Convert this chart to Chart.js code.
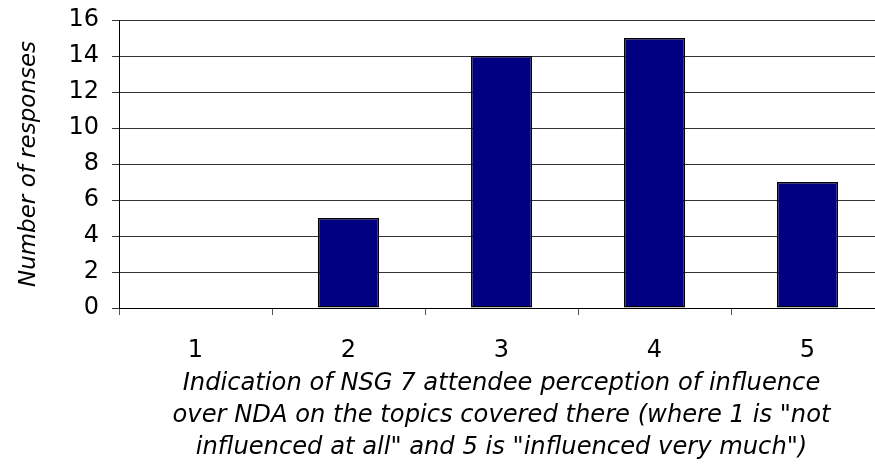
<!DOCTYPE html>
<html>
<head>
<meta charset="utf-8">
<script src="https://cdn.jsdelivr.net/npm/chart.js@4"></script>
<style>
    html, body { margin:0; padding:0; background:#fff; overflow:hidden; }
    #wrap { width:885px; height:467px; }
</style>
</head>
<body>
<div id="wrap"><canvas id="chart"></canvas></div>
<script>
const categories = ["1", "2", "3", "4", "5"];
const responses = [0, 5, 14, 15, 7];
const yTitle = "Number of responses";
const xTitle = [
    "Indication of NSG 7 attendee perception of influence",
    "over NDA on the topics covered there (where 1 is \"not",
    "influenced at all\" and 5 is \"influenced very much\")"
];

const font = "'DejaVu Sans', Verdana, sans-serif";

new Chart(document.getElementById("chart"), {
    type: "bar",
    data: {
        labels: categories,
        datasets: [{
            data: responses,
            backgroundColor: "#000080",
            borderColor: "#000000",
            borderWidth: 1.5,
            borderSkipped: false,
            barPercentage: 0.4,
            categoryPercentage: 1
        }]
    },
    options: {
        responsive: true,
        maintainAspectRatio: false,
        animation: false,
        layout: { padding: { top: 20, right: 1, left: 0, bottom: 0 } },
        plugins: { legend: { display: false }, tooltip: { enabled: false } },
        scales: {
            x: {
                offset: true,
                grid: { offset: true, drawOnChartArea: false, color: "#555", tickLength: 7 },
                border: { color: "#000", width: 1 },
                ticks: { color: "#000", font: { family: font, size: 24 }, padding: 21 },
                title: {
                    display: true, text: xTitle, color: "#000",
                    font: { family: font, size: 24.2, style: "italic", lineHeight: 1.32 },
                    padding: { top: 0, bottom: 3 }
                },
                afterFit: s => { s.height = 159; }
            },
            y: {
                min: 0, max: 16,
                grid: { color: "#333", tickLength: 7 },
                border: { color: "#000", width: 1 },
                ticks: { stepSize: 2, color: "#000", font: { family: font, size: 24 }, padding: 13 },
                title: {
                    display: true, text: yTitle, color: "#000",
                    font: { family: font, size: 23, style: "italic", lineHeight: 1.2 },
                    padding: { top: 15, bottom: 0 }
                },
                afterFit: s => { s.width = 119; s.paddingTop = 0; s.paddingBottom = 0; }
            }
        }
    }
});
</script>
</body>
</html>
